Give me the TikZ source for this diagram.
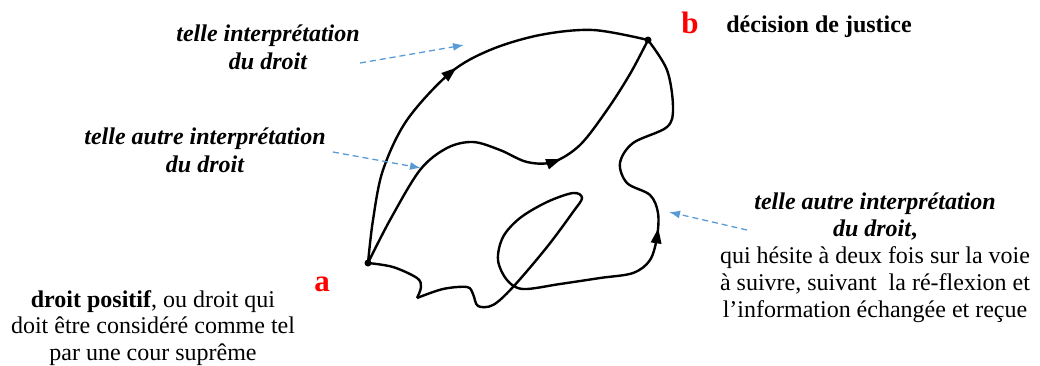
\documentclass[tikz,border=0pt]{standalone}
\usepackage{fontspec}
\setmainfont{Liberation Serif}
\usetikzlibrary{arrows, arrows.meta, decorations.markings}

\definecolor{pointerblue}{HTML}{5B9BD5}

\tikzstyle{note} = [
    align=center,
    inner sep=0pt,
    font=\fontsize{24}{27}\selectfont
]
\tikzstyle{boldnote} = [
    note,
    font=\fontsize{24}{28}\selectfont\bfseries\itshape
]
\tikzstyle{pointname} = [
    inner sep=0pt,
    text=red,
    font=\fontsize{31}{31}\selectfont\bfseries
]
\tikzstyle{title} = [
    inner sep=0pt,
    font=\fontsize{24}{28}\selectfont\bfseries
]
\tikzstyle{route} = [line width=2.4pt, smooth, tension=0.55]
\tikzstyle{pointer} = [
    pointerblue,
    line width=1.3pt,
    dash pattern=on 6pt off 4pt,
    -{Latex[length=11pt,width=8pt]}
]
\tikzset{midarrow/.style={
    postaction={decorate},
    decoration={markings, mark=at position #1 with
        {\fill (7pt,0pt) -- (-8pt,5.5pt) -- (-8pt,-5.5pt) -- cycle;}}
}}

\begin{document}
\begin{tikzpicture}[x=1pt, y=-1pt]

\useasboundingbox (0,0) rectangle (1040,365);

% end points
\coordinate (a) at (368,263);
\coordinate (b) at (648,40);
\coordinate (dip) at (417,298);

\node (alabel) [pointname] at (322,284) {a};
\node (blabel) [pointname] at (690,23) {b};
\node (decision) [title, right of=blabel, node distance=129pt, yshift=-4pt]
{décision de justice};

% the three ways from a to b
\draw [route, midarrow=0.51] plot coordinates {(a) (373,220) (383,170) (407,120)
    (450,73) (490,50) (540,35) (593,30) (b)};

\draw [route, midarrow=0.62] plot coordinates {(a) (390,220) (420,170) (447,148)
    (473,142) (500,150) (527,162) (553,162) (580,145) (607,110) (630,74) (b)};

\draw [route] plot coordinates {(a) (393,267) (417,278) (421,287) (dip)};
\draw [route, midarrow=0.69] plot coordinates {(dip) (443,289) (467,287) (473,294)
    (478,306) (493,305) (513,287) (547,247) (573,212) (582,198) (573,193)
    (547,202) (520,218) (503,237) (498,260) (507,280) (523,289) (560,284)
    (600,278) (633,273) (650,260) (657,237) (658,213) (650,195) (627,183)
    (620,163) (633,143) (667,127) (673,107) (667,70) (b)};

\fill (a) circle (3.5);
\fill (b) circle (3.5);

% notes
\node (topnote) [boldnote, anchor=north] at (268,25)
{telle interprétation\\du droit};

\node (midnote) [boldnote, anchor=north] at (205,128)
{telle autre interprétation\\du droit};

\node (rightnote) [note, anchor=north] at (875,193)
{\textbf{\textit{telle autre interprétation}}\\
\textbf{\textit{du droit},}\\
qui hésite à deux fois sur la voie\\
à suivre, suivant~ la ré-flexion et\\
l’information échangée et reçue};

\node (leftnote) [note, anchor=north, font=\fontsize{24}{26.5}\selectfont] at (153,290)
{\textbf{droit positif}, ou droit qui\\
doit être considéré comme tel\\
par une cour suprême};

% pointers
\coordinate (topend) at (464,45);
\coordinate (midend) at (421,168);
\coordinate (rightend) at (669,212);

\draw [pointer] (360,63) -- (topend);
\draw [pointer] (333,152) -- (midend);
\draw [pointer] (747,230) -- (rightend);

\end{tikzpicture}
\end{document}
